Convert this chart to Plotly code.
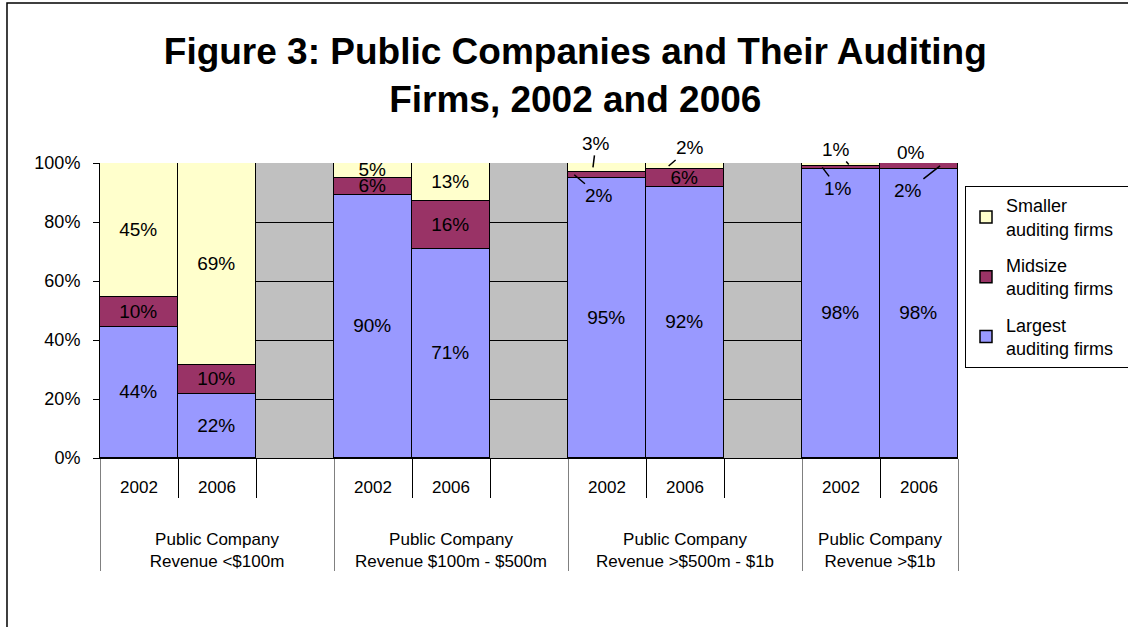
import plotly.graph_objects as go

groups = ["Public Company<br>Revenue <$100m", "Public Company<br>Revenue $100m - $500m",
          "Public Company<br>Revenue >$500m - $1b", "Public Company<br>Revenue >$1b"]
years = ["2002", "2006"]

largest = [44, 22, 90, 71, 95, 92, 98, 98]
midsize = [10, 10, 6, 16, 2, 6, 1, 2]
smaller = [45, 69, 5, 13, 3, 2, 1, 0]

series = [("Largest<br>auditing firms", largest, "#9999FF"),
          ("Midsize<br>auditing firms", midsize, "#993366"),
          ("Smaller<br>auditing firms", smaller, "#FFFFCC")]

FONT = "Liberation Sans, Arial"

# categories: each group has 2002, 2006 and a blank spacer (except the last)
outer, inner, idx_of = [], [], {}
for gi, g in enumerate(groups):
    label = "<br><br>" + g
    for yi, yr in enumerate(years):
        idx_of[(gi, yi)] = len(outer)
        outer.append(label); inner.append(yr)
    if gi < len(groups) - 1:
        outer.append(label); inner.append(" ")

# labels drawn outside with leader lines: (series index, bar index)
moved = {(2, 4), (1, 4), (2, 5), (2, 6), (1, 6), (2, 7), (1, 7)}

fig = go.Figure()
for si, (name, vals, col) in enumerate(series):
    y = [None] * len(outer)
    txt = [""] * len(outer)
    for bi, v in enumerate(vals):
        pos = idx_of[(bi // 2, bi % 2)]
        y[pos] = v
        txt[pos] = "" if (si, bi) in moved else f"{v}%"
    fig.add_trace(go.Bar(
        x=[outer, inner], y=y, name=name + "&nbsp;&nbsp;&nbsp;", text=txt,
        legendgroup=f"g{si}", legendrank=3 - si,
        textposition="inside", insidetextanchor="middle",
        textfont=dict(family=FONT, size=19, color="black"),
        marker=dict(color=col, line=dict(color="black", width=1.5)),
        constraintext="none",
    ))

def seg_mid(si, bi, frac=0.5):
    tot = largest[bi] + midsize[bi] + smaller[bi]
    cols = [largest, midsize, smaller]
    base = sum(c[bi] for c in cols[:si])
    return (base + cols[si][bi] * frac) / tot * 100

leaders = [
    # (series, bar, x offset in slots, ax, ay)
    (2, 4, -0.18, 3, -24),
    (1, 4, -0.42, 25, 21),
    (2, 5, -0.21, 21, -18),
    (2, 6, 0.10, -13, -15),
    (1, 6, -0.24, 16, 21),
    (1, 7, 0.27, -32, 25),
]
for si, bi, dx, ax, ay in leaders:
    pos = idx_of[(bi // 2, bi % 2)]
    v = series[si][1][bi]
    fig.add_annotation(x=pos + dx, y=seg_mid(si, bi), text=f"{v}%",
                       showarrow=True, arrowhead=0, arrowwidth=1.5, arrowcolor="black",
                       ax=ax, ay=ay, standoff=0,
                       font=dict(family=FONT, size=19, color="black"))
pos = idx_of[(3, 1)]
fig.add_annotation(x=pos, y=100, text=f"{smaller[7]}%", showarrow=False,
                   yshift=11, xshift=-8,
                   font=dict(family=FONT, size=19, color="black"))

# outer chart border
fig.add_shape(type="rect", xref="paper", yref="paper", x0=-0.1084, x1=1.3, y0=-0.8, y1=1.542,
              line=dict(color="black", width=1.5), fillcolor="rgba(0,0,0,0)", layer="below")

fig.update_layout(
    width=1128, height=627,
    margin=dict(l=100, r=170, t=163, b=169, autoexpand=False),
    barmode="stack", barnorm="percent", bargap=0,
    paper_bgcolor="white", plot_bgcolor="#C0C0C0",
    font=dict(family=FONT, size=17, color="black"),
    title=dict(text="<b>Figure 3: Public Companies and Their Auditing<br>Firms, 2002 and 2006</b>",
               x=0.51, xanchor="center", xref="container", y=1 - 64 / 627, yanchor="middle",
               font=dict(family=FONT, size=37, color="black")),
    legend=dict(xref="container", yref="container", x=965 / 1128, y=1 - 186 / 627,
                xanchor="left", yanchor="top", traceorder="grouped",
                bordercolor="black", borderwidth=1, bgcolor="white",
                font=dict(family=FONT, size=18), tracegroupgap=10),
    showlegend=True,
)
fig.update_yaxes(range=[0, 100], dtick=20, ticksuffix="%", showgrid=True, gridcolor="black",
                 gridwidth=1, showline=True, linecolor="black", linewidth=1,
                 ticks="outside", ticklen=6, tickcolor="black", zeroline=False,
                 automargin=False, ticklabelstandoff=9, tickfont=dict(size=18))
fig.update_xaxes(type="multicategory", showline=True, linecolor="black", linewidth=1,
                 ticks="outside", tickson="boundaries", ticklen=39, tickcolor="black",
                 showdividers=True, dividercolor="#808080", dividerwidth=1,
                 ticklabelstandoff=14, automargin=False,
                 tickfont=dict(size=17), showgrid=False)

fig.write_html("out.html", config={"displayModeBar": False},
               post_script="document.body.style.margin='0px';")
